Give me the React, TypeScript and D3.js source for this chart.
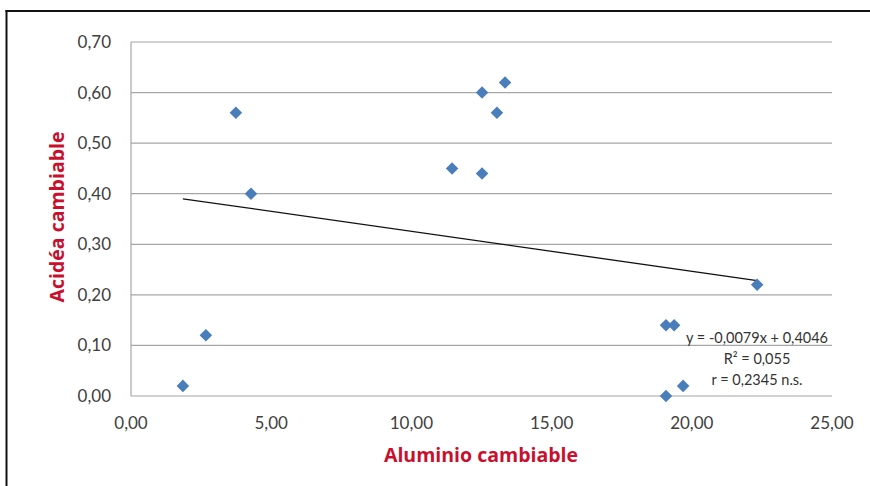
import React from "react";
import * as d3 from "d3";

const aluminio: number[] = [1.85, 2.67, 3.74, 4.28, 11.45, 12.52, 12.52, 13.05, 13.34, 19.08, 19.37, 19.08, 19.69, 22.33];
const acidez: number[] = [0.02, 0.12, 0.56, 0.40, 0.45, 0.60, 0.44, 0.56, 0.62, 0.14, 0.14, 0.00, 0.02, 0.22];
const xTicks: number[] = [0, 5, 10, 15, 20, 25];
const yTicks: number[] = [0, 0.1, 0.2, 0.3, 0.4, 0.5, 0.6, 0.7];
const slope = -0.0079;
const intercept = 0.4046;
const eqLines: string[] = ["y = -0,0079x + 0,4046", "R² = 0,055", "r = 0,2345 n.s."];
const xTitle = "Aluminio cambiable";
const yTitle = "Acidéa cambiable";

const W = 870;
const H = 486;
const fmt = (v: number) => v.toFixed(2).replace(".", ",");

export default function App() {
  const x = d3.scaleLinear().domain([0, 25]).range([131, 832]);
  const y = d3.scaleLinear().domain([0, 0.7]).range([396, 42]);
  const xMin = d3.min(aluminio) as number;
  const xMax = d3.max(aluminio) as number;
  const line = d3.line<number>().x((d) => x(d)).y((d) => y(slope * d + intercept));
  const diamond = d3.symbol().type(d3.symbolDiamond2).size(100)();
  const font = "Lato, 'Open Sans', sans-serif";
  const titleFont = "'Open Sans', Lato, sans-serif";
  const red = "#c8102e";
  const textCol = "#404040";
  return (
    <div style={{ position: "fixed", left: 0, top: 0 }}>
      <svg width={W} height={H} style={{ display: "block", background: "#fff" }}>
        <rect x={0} y={0} width={W} height={H} fill="#fff" />
        <line x1={6.5} x2={6.5} y1={10} y2={H} stroke="#111" strokeWidth={2} />
        <line x1={5.5} x2={W} y1={11} y2={11} stroke="#111" strokeWidth={2} />
        {yTicks.map((t) => (
          <line key={"g" + t} x1={x(0)} x2={x(25)} y1={y(t)} y2={y(t)} stroke="#a6a6a6" strokeWidth={1.2} />
        ))}
        <line x1={x(0)} x2={x(0)} y1={y(0.7)} y2={y(0)} stroke="#a6a6a6" strokeWidth={1.2} />
        {yTicks.map((t) => (
          <text key={"yt" + t} x={111} y={y(t)} dy="0.35em" textAnchor="end" fontFamily={font} fontSize={17} fill={textCol}>
            {fmt(t)}
          </text>
        ))}
        {xTicks.map((t) => (
          <text key={"xt" + t} x={x(t)} y={423} dy="0.35em" textAnchor="middle" fontFamily={font} fontSize={17} fill={textCol}>
            {fmt(t)}
          </text>
        ))}
        <path d={line([xMin, xMax]) as string} stroke="#111" strokeWidth={1.3} fill="none" />
        {aluminio.map((a, i) => (
          <path key={"p" + i} d={diamond as string} transform={`translate(${x(a)},${y(acidez[i])})`} fill="#4a7ebb" />
        ))}
        {eqLines.map((s, i) => (
          <text key={"eq" + i} x={757} y={338 + i * 21} dy="0.35em" textAnchor="middle" fontFamily={font} fontSize={14.5} fill="#333">
            {s}
          </text>
        ))}
        <text x={481} y={455} dy="0.35em" textAnchor="middle" fontFamily={titleFont} fontSize={19.5} fontWeight="bold" fill={red}>
          {xTitle}
        </text>
        <text transform={`translate(57,217) rotate(-90)`} dy="0.35em" textAnchor="middle" fontFamily={titleFont} fontSize={19.5} fontWeight="bold" fill={red}>
          {yTitle}
        </text>
      </svg>
    </div>
  );
}
